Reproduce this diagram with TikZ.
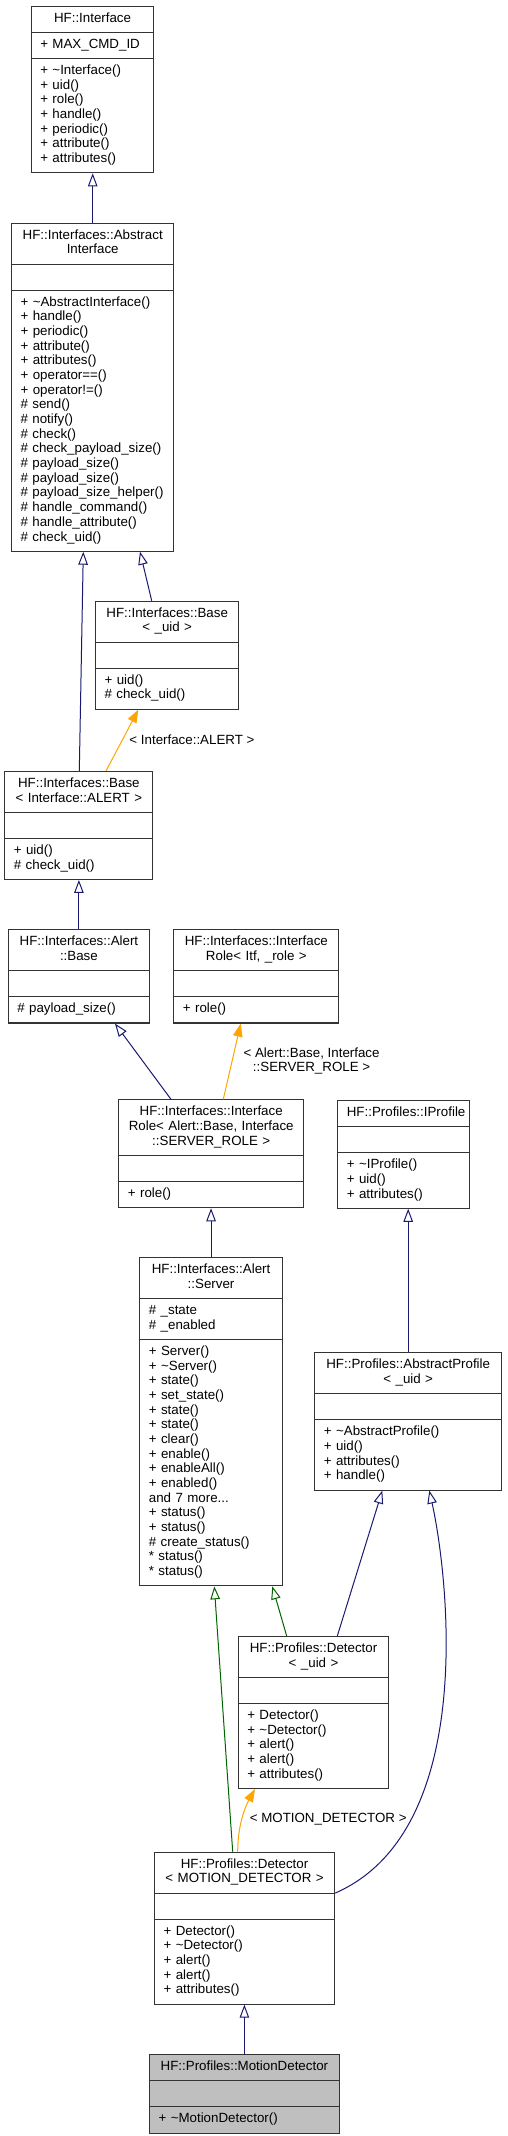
\documentclass[tikz,border=0pt]{standalone}
\usepackage{fontspec}
\setmainfont{Liberation Sans}
\usetikzlibrary{arrows.meta,shapes.multipart}
\definecolor{edgeblue}{RGB}{25,25,112}
\definecolor{edgegreen}{RGB}{0,100,0}
\definecolor{edgeorange}{RGB}{255,165,0}
\definecolor{boxline}{RGB}{51,51,51}
\definecolor{hlgray}{RGB}{191,191,191}
\newcommand{\clsfont}{\fontsize{13.33}{14.67}\selectfont}
\newcommand{\ttl}[1]{\centering\strut#1\strut\par}
\tikzset{
cls/.style={draw=boxline,line width=1.1pt,fill=white,rectangle split,rectangle split parts=3,anchor=north west,inner xsep=9pt,inner ysep=5.2pt,font=\clsfont},
hl/.style={cls,fill=hlgray},
inherit/.style={-{Triangle[open,length=13pt,width=9.5pt]},line width=1pt,edgeblue},
protinherit/.style={inherit,edgegreen},
tmpl/.style={-{Triangle[length=13pt,width=9.5pt]},line width=1pt,edgeorange},
edgelbl/.style={font=\clsfont,text=black,anchor=west,inner sep=2pt,align=center}
}
\begin{document}
\begin{tikzpicture}[x=1pt,y=-1pt]
\useasboundingbox (0,0) rectangle (507,2136);
% classes
\node[cls,text width=104.6pt] (iface) at (30.7,5.7) {\ttl{HF::Interface}
\nodepart{two}\strut + MAX\_CMD\_ID\strut
\nodepart{three}\strut + \textasciitilde Interface()\\+ uid()\\+ role()\\+ handle()\\+ periodic()\\+ attribute()\\+ attributes()\strut};
\node[cls,text width=144.3pt] (absif) at (11,222.7) {\ttl{HF::Interfaces::Abstract\\Interface}
\nodepart{two}\strut
\nodepart{three}\strut + \textasciitilde AbstractInterface()\\+ handle()\\+ periodic()\\+ attribute()\\+ attributes()\\+ operator==()\\+ operator!=()\\\# send()\\\# notify()\\\# check()\\\# check\_payload\_size()\\\# payload\_size()\\\# payload\_size()\\\# payload\_size\_helper()\\\# handle\_command()\\\# handle\_attribute()\\\# check\_uid()\strut};
\node[cls,text width=125.3pt] (baseuid) at (95,600.7) {\ttl{HF::Interfaces::Base\\< \_uid >}
\nodepart{two}\strut
\nodepart{three}\strut + uid()\\\# check\_uid()\strut};
\node[cls,text width=130pt] (basealert) at (4.3,771) {\ttl{HF::Interfaces::Base\\< Interface::ALERT >}
\nodepart{two}\strut
\nodepart{three}\strut + uid()\\\# check\_uid()\strut};
\node[cls,text width=123.3pt] (alertbase) at (7.7,929.3) {\ttl{HF::Interfaces::Alert\\::Base}
\nodepart{two}\strut
\nodepart{three}\strut\# payload\_size()\strut};
\node[cls,text width=147pt] (irole) at (173.3,929.3) {\ttl{HF::Interfaces::Interface\\Role< Itf, \_role >}
\nodepart{two}\strut
\nodepart{three}\strut + role()\strut};
\node[cls,text width=166.7pt] (iroleab) at (118.3,1099.3) {\ttl{HF::Interfaces::Interface\\Role< Alert::Base, Interface\\::SERVER\_ROLE >}
\nodepart{two}\strut
\nodepart{three}\strut + role()\strut};
\node[cls,text width=114pt] (iprofile) at (337.3,1099.8) {\ttl{HF::Profiles::IProfile}
\nodepart{two}\strut
\nodepart{three}\strut + \textasciitilde IProfile()\\+ uid()\\+ attributes()\strut};
\node[cls,text width=124.4pt] (server) at (139.3,1257.3) {\ttl{HF::Interfaces::Alert\\::Server}
\nodepart{two}\strut\# \_state\\\# \_enabled\strut
\nodepart{three}\strut + Server()\\+ \textasciitilde Server()\\+ state()\\+ set\_state()\\+ state()\\+ state()\\+ clear()\\+ enable()\\+ enableAll()\\+ enabled()\\and 7 more...\\+ status()\\+ status()\\\# create\_status()\\{*} status()\\{*} status()\strut};
\node[cls,text width=168.7pt] (absprof) at (314.3,1352.3) {\ttl{HF::Profiles::AbstractProfile\\< \_uid >}
\nodepart{two}\strut
\nodepart{three}\strut + \textasciitilde AbstractProfile()\\+ uid()\\+ attributes()\\+ handle()\strut};
\node[cls,text width=132.6pt] (detuid) at (237.7,1636) {\ttl{HF::Profiles::Detector\\< \_uid >}
\nodepart{two}\strut
\nodepart{three}\strut + Detector()\\+ \textasciitilde Detector()\\+ alert()\\+ alert()\\+ attributes()\strut};
\node[cls,text width=162pt] (detmd) at (154,1851.7) {\ttl{HF::Profiles::Detector\\< MOTION\_DETECTOR >}
\nodepart{two}\strut
\nodepart{three}\strut + Detector()\\+ \textasciitilde Detector()\\+ alert()\\+ alert()\\+ attributes()\strut};
\node[hl,text width=171.7pt] (motion) at (149,2054) {\ttl{HF::Profiles::MotionDetector}
\nodepart{two}\strut
\nodepart{three}\strut + \textasciitilde MotionDetector()\strut};
% relations
\draw[inherit] (absif.north) -- (absif.north |- iface.south);
\draw[inherit] ([xshift=75pt]basealert.north west) -- ([xshift=72.3pt]absif.south west);
\draw[inherit] ([xshift=56.7pt]baseuid.north west) -- ([xshift=129pt]absif.south west);
\draw[tmpl] ([xshift=101.7pt]basealert.north west) -- node[edgelbl,pos=.51,xshift=4.5pt] {< Interface::ALERT >} ([xshift=43.3pt]baseuid.south west);
\draw[inherit] (alertbase.north) -- (alertbase.north |- basealert.south);
\draw[inherit] ([xshift=52.7pt]iroleab.north west) -- ([xshift=107.3pt]alertbase.south west);
\draw[tmpl] ([xshift=105pt]iroleab.north west) -- node[edgelbl,pos=.506,xshift=9pt] {< Alert::Base, Interface\\::SERVER\_ROLE >} ([xshift=67.4pt]irole.south west);
\draw[inherit] (server.north) -- (server.north |- iroleab.south);
\draw[inherit] (absprof.north) -- (absprof.north |- iprofile.south);
\draw[protinherit] ([xshift=78.7pt]detmd.north west) -- ([xshift=75pt]server.south west);
\draw[protinherit] ([xshift=49pt]detuid.north west) -- ([xshift=133pt]server.south west);
\draw[inherit] ([xshift=99.6pt]detuid.north west) -- ([xshift=68pt]absprof.south west);
\draw[inherit] (detmd.one split east) .. controls (480,1830) and (447,1570) .. ([xshift=115pt]absprof.south west);
\draw[tmpl] ([xshift=83.7pt]detmd.north west) .. controls +(0,-26) and +(-10,18) .. node[edgelbl,pos=.5,xshift=4.7pt,yshift=-2pt] {< MOTION\_DETECTOR >} ([xshift=17.3pt]detuid.south west);
\draw[inherit] (motion.north) -- (motion.north |- detmd.south);
\end{tikzpicture}
\end{document}
